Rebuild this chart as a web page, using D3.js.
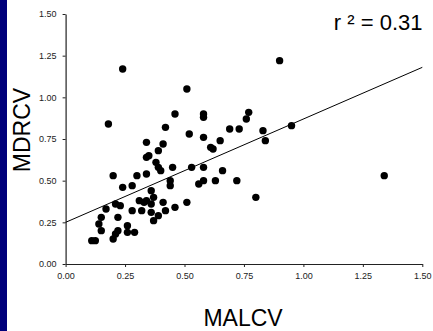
<!DOCTYPE html>
<html>
<head>
<meta charset="utf-8">
<script src="https://cdn.jsdelivr.net/npm/d3@7"></script>
<style>
  html, body { margin: 0; padding: 0; background: #fff; }
  svg { display: block; }
  text { font-family: "Liberation Sans", Arial, sans-serif; }
</style>
</head>
<body>
<svg id="chart" width="433" height="331"></svg>
<script>
// Data
const malcv = [0.24,0.90,0.51,0.18,0.46,0.58,0.58,0.77,0.76,0.42,0.52,0.58,0.69,0.73,0.83,0.84,0.95,0.65,0.61,0.62,
  0.34,0.41,0.39,0.34,0.35,0.38,0.39,0.40,0.45,0.53,0.58,0.66,0.34,0.30,0.20,0.44,0.44,0.56,0.58,0.63,0.72,
  0.24,0.28,0.36,0.37,0.34,0.31,0.33,0.36,0.41,0.51,0.21,0.23,0.17,0.28,0.32,0.36,0.42,0.46,0.39,0.37,
  0.15,0.22,0.14,0.26,0.15,0.22,0.21,0.26,0.29,0.20,0.11,0.125,0.80,1.34];
const mdrcv = [1.17,1.22,1.05,0.84,0.90,0.90,0.88,0.91,0.87,0.82,0.78,0.76,0.81,0.81,0.80,0.74,0.83,0.74,0.70,0.69,
  0.73,0.72,0.68,0.64,0.65,0.61,0.58,0.56,0.58,0.58,0.58,0.56,0.54,0.53,0.53,0.50,0.47,0.48,0.50,0.50,0.50,
  0.46,0.47,0.44,0.40,0.38,0.38,0.37,0.36,0.37,0.37,0.36,0.35,0.33,0.32,0.32,0.31,0.32,0.34,0.29,0.26,
  0.28,0.28,0.24,0.23,0.20,0.20,0.18,0.19,0.19,0.15,0.14,0.14,0.40,0.53];
const fitX = [0, 1.5];
const fitY = [0.25, 1.18];
const tickValues = [0, 0.25, 0.5, 0.75, 1.0, 1.25, 1.5];
const xLabel = "MALCV";
const yLabel = "MDRCV";
const rsqLabel = "r \u00b2 = 0.31";

const svg = d3.select("#chart");
svg.append("rect").attr("x", 0).attr("y", 0).attr("width", 7).attr("height", 331).attr("fill", "#00007a");

const x = d3.scaleLinear().domain([0, 1.5]).range([65.6, 422.3]);
const y = d3.scaleLinear().domain([0, 1.5]).range([264, 14]);

const xAxis = svg.append("g").attr("transform", "translate(0,264)")
  .call(d3.axisBottom(x).tickValues(tickValues).tickFormat(d3.format(".2f")).tickSizeInner(3).tickSizeOuter(0).tickPadding(6));
const yAxis = svg.append("g").attr("transform", "translate(65.6,0)")
  .call(d3.axisLeft(y).tickValues(tickValues).tickFormat(d3.format(".2f")).tickSizeInner(3).tickSizeOuter(0).tickPadding(6));
[xAxis, yAxis].forEach(g => {
  g.select(".domain").attr("stroke", "#222").attr("stroke-width", 1.2);
  g.selectAll(".tick line").attr("stroke", "#222");
  g.selectAll(".tick text").attr("fill", "#222").style("font-size", "9px")
    .style("font-family", '"Liberation Sans", Arial, sans-serif');
});

// regression line
svg.append("line")
  .attr("x1", x(fitX[0])).attr("y1", y(fitY[0]))
  .attr("x2", x(fitX[1])).attr("y2", y(fitY[1]))
  .attr("stroke", "#000").attr("stroke-width", 1);

svg.append("g").selectAll("circle").data(malcv.map((d, i) => [d, mdrcv[i]]))
  .join("circle")
  .attr("cx", d => x(d[0])).attr("cy", d => y(d[1]))
  .attr("r", 3.7).attr("fill", "#000");

svg.append("text").attr("x", 422.5).attr("y", 30).attr("text-anchor", "end")
  .style("font-size", "22px").attr("fill", "#000").text(rsqLabel);

svg.append("text").attr("x", 243).attr("y", 326).attr("text-anchor", "middle")
  .style("font-size", "23px").attr("fill", "#000").text(xLabel);

svg.append("text").attr("transform", "translate(30,130) rotate(-90)").attr("text-anchor", "middle")
  .style("font-size", "23px").attr("fill", "#000").text(yLabel);
</script>
</body>
</html>
